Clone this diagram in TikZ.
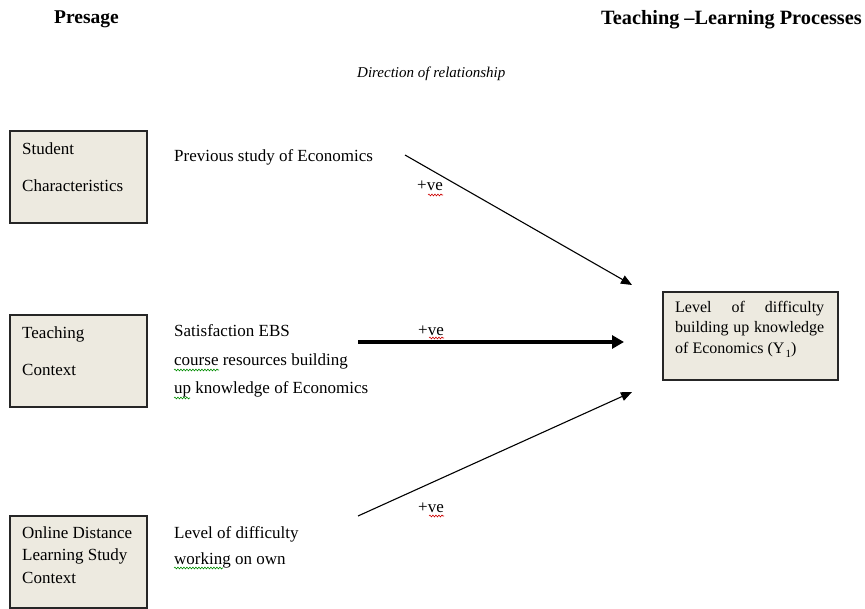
\documentclass[tikz,border=0pt]{standalone}
\usepackage{fontspec}
\setmainfont{Liberation Serif}
\usetikzlibrary{arrows.meta,decorations.pathmorphing}

\tikzset{
  txt/.style={anchor=base west, inner sep=0pt, font=\fontsize{17}{20}\selectfont},
  outtxt/.style={anchor=base west, inner sep=0pt, font=\fontsize{16}{19}\selectfont},
  head/.style={anchor=base west, inner sep=0pt, font=\fontsize{19.5}{23}\selectfont\bfseries},
  factor/.style={draw=black!85, line width=1.1pt, fill=boxfill},
  link/.style={line width=1.1pt, -{Triangle[length=11pt,width=9pt]}},
  strong link/.style={line width=3.6pt, -{Triangle[length=12pt,width=13pt]}},
  redwave/.style={draw=red!80!black, line width=0.6pt, decorate,
    decoration={snake, amplitude=0.9pt, segment length=3pt}},
  greenwave/.style={draw=green!55!black, line width=0.6pt, decorate,
    decoration={snake, amplitude=0.9pt, segment length=3pt}},
}
\definecolor{boxfill}{HTML}{EDEAE0}

\begin{document}
\begin{tikzpicture}[x=1pt, y=-1pt]
\useasboundingbox (0,0) rectangle (865,609);

% column headings
\node[head] (presage) at (54,24) {Presage};
\node[head, font=\fontsize{20.3}{24}\selectfont\bfseries] (process) at (601,25)
  {Teaching –Learning Processes};
\node[anchor=base west, inner sep=0pt, font=\fontsize{15}{18}\selectfont\itshape]
  (direction) at (357,78) {Direction of relationship};

% presage factor boxes
\draw[factor] (10,131) rectangle (147,223);
\draw[factor] (10,315) rectangle (147,407);
\draw[factor] (10,516) rectangle (147,608);
\node[txt] (student) at (22,155) {Student};
\node[txt] (charac) at (22,192) {Characteristics};
\node[txt] (teach) at (22,339) {Teaching};
\node[txt] (tcontext) at (22,376) {Context};
\node[txt] (online) at (22,538) {Online Distance};
\node[txt] (learning) at (22,560) {Learning Study};
\node[txt] (ocontext) at (22,583) {Context};

% predictor variables
\node[txt] (prev) at (174,162) {Previous study of Economics};
\node[txt] (sat1) at (174,337) {Satisfaction EBS};
\node[txt] (sat2) at (174,366) {course resources building};
\node[txt] (sat3) at (174,394) {up knowledge of Economics};
\node[txt] (own1) at (174,538) {Level of difficulty};
\node[txt] (own2) at (174,564) {working on own};

% outcome box
\draw[factor] (663,292) rectangle (838,380);
\node[outtxt] (out1) at (675,313) {\makebox[149pt][s]{Level \hfill of \hfill difficulty}};
\node[outtxt] (out2) at (675,333) {\makebox[149pt][s]{building \hfill up \hfill knowledge}};
\node[outtxt] (out3) at (675,354) {of Economics (Y\kern1pt\raisebox{-0.2em}{\fontsize{11}{12}\selectfont 1})};

% connectors
\coordinate (a1s) at (405,155);
\coordinate (a1e) at (632,285);
\coordinate (a2s) at (358,342);
\coordinate (a2e) at (624,342);
\coordinate (a3s) at (358,516);
\coordinate (a3e) at (632,392);
\draw[link] (a1s) -- (a1e);
\draw[strong link] (a2s) -- (a2e);
\draw[link] (a3s) -- (a3e);

% sign labels
\node[txt] (s1) at (417,191) {+ve};
\node[txt] (s2) at (418,336) {+ve};
\node[txt] (s3) at (418,512) {+ve};

% proofing underlines
\draw[redwave] (428,195) -- (443,195);
\draw[redwave] (429,338) -- (444,338);
\draw[redwave] (429,516) -- (444,516);
\draw[greenwave] (174,370) -- (219,370);
\draw[greenwave] (174,398) -- (190,398);
\draw[greenwave] (174,568) -- (223,568);
\end{tikzpicture}
\end{document}
